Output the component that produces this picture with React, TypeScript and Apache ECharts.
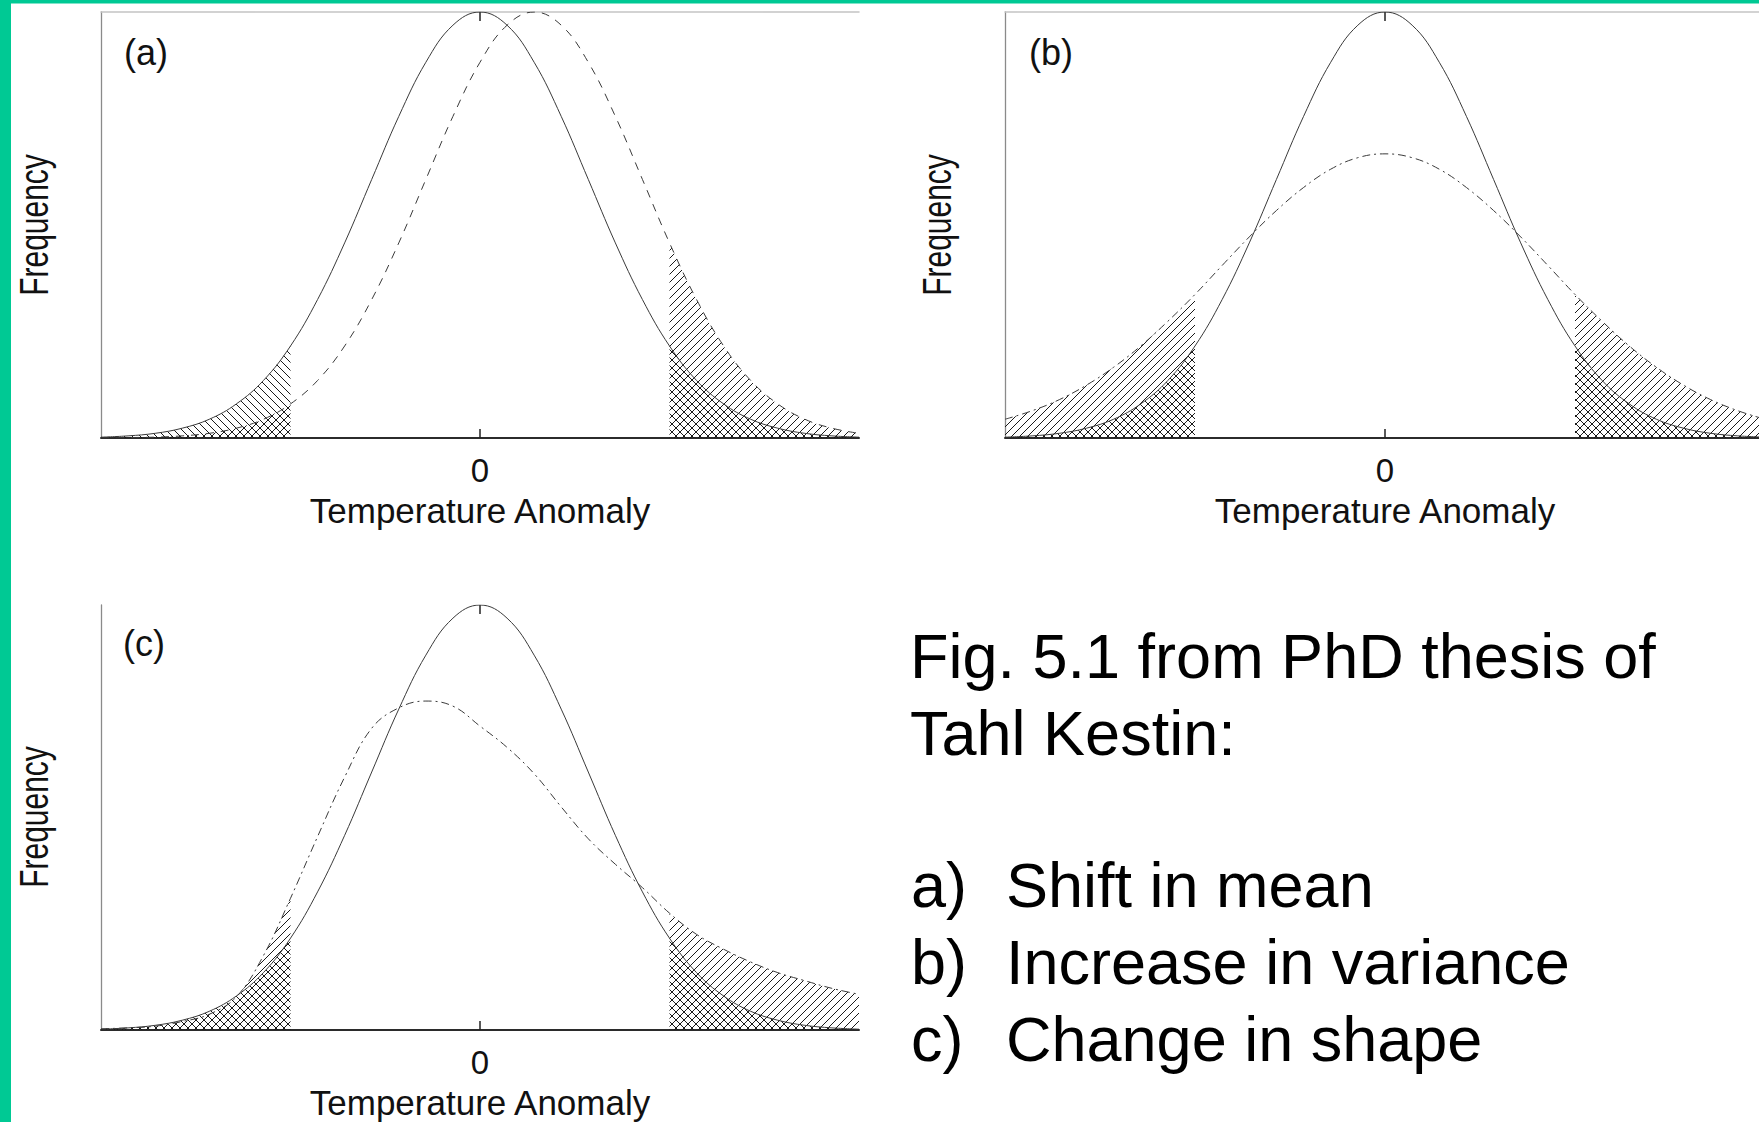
import React, { useEffect, useRef } from 'react';
import * as echarts from 'echarts';

// Temperature anomaly in standard deviations of the reference climate.
const X_GRID = [
  -3.5, -3.25, -3, -2.75, -2.5, -2.25, -2, -1.75, -1.5, -1.25, -1, -0.75, -0.5, -0.25,
  0, 0.25, 0.5, 0.75, 1, 1.25, 1.5, 1.75, 2, 2.25, 2.5, 2.75, 3, 3.25, 3.5,
];

// Reference climate (solid curve, same in all three panels), peak frequency = 1.
const BASE_FREQ = [
  0.002, 0.005, 0.011, 0.023, 0.044, 0.080, 0.135, 0.216, 0.325, 0.458, 0.607, 0.755, 0.882, 0.969,
  1.000, 0.969, 0.882, 0.755, 0.607, 0.458, 0.325, 0.216, 0.135, 0.080, 0.044, 0.023, 0.011, 0.005, 0.002,
];

// (a) shift in mean
const SHIFTED_FREQ = [
  0.000, 0.001, 0.002, 0.005, 0.011, 0.023, 0.044, 0.080, 0.135, 0.216, 0.325, 0.458, 0.607, 0.755,
  0.882, 0.969, 1.000, 0.969, 0.882, 0.755, 0.607, 0.458, 0.325, 0.216, 0.135, 0.080, 0.044, 0.023, 0.011,
];

// (b) increase in variance
const WIDER_FREQ = [
  0.044, 0.064, 0.090, 0.124, 0.166, 0.216, 0.274, 0.337, 0.405, 0.472, 0.534, 0.588, 0.631, 0.658,
  0.667, 0.658, 0.631, 0.588, 0.534, 0.472, 0.405, 0.337, 0.274, 0.216, 0.166, 0.124, 0.090, 0.064, 0.044,
];

// (c) change in shape (skewed, long warm tail)
const SKEWED_FREQ = [
  0.003, 0.005, 0.009, 0.020, 0.037, 0.078, 0.175, 0.310, 0.455, 0.595, 0.710, 0.758, 0.774, 0.762,
  0.715, 0.665, 0.603, 0.525, 0.450, 0.390, 0.335, 0.275, 0.225, 0.190, 0.160, 0.135, 0.116, 0.098, 0.084,
];

// Extreme thresholds: tails beyond these are hatched.
const TAIL_CUTS = [-1.75, 1.75];
const X_TICKS = [0];

const PANEL_LABELS = ['(a)', '(b)', '(c)'];
const X_NAME = 'Temperature Anomaly';
const Y_NAME = 'Frequency';

const CAPTION_LINES = ['Fig. 5.1 from PhD thesis of', 'Tahl Kestin:'];
const CAPTION_ITEMS = [
  ['a)', 'Shift in mean'],
  ['b)', 'Increase in variance'],
  ['c)', 'Change in shape'],
];

const FONT = "'Liberation Sans', Arial, Helvetica, sans-serif";
const GREEN = '#00C994';
const INK = '#111111';

// Diagonal hatch tile; 'back' = old-climate tails, 'fwd' = changed-climate tails.
function hatch(kind: 'fwd' | 'back') {
  const w = 8;
  const h = 8;
  const cv = document.createElement('canvas');
  cv.width = w;
  cv.height = h;
  const ctx = cv.getContext('2d')!;
  ctx.strokeStyle = '#1a1a1a';
  ctx.lineWidth = 1;
  ctx.beginPath();
  for (const o of [-w, 0, w]) {
    if (kind === 'fwd') {
      ctx.moveTo(o, h);
      ctx.lineTo(o + w, 0);
    } else {
      ctx.moveTo(o, 0);
      ctx.lineTo(o + w, h);
    }
  }
  ctx.stroke();
  return { image: cv.toDataURL(), repeat: 'repeat', imageWidth: w, imageHeight: h };
}

function pairs(ys: number[]) {
  return X_GRID.map((x, i) => [x, ys[i]]);
}

function tail(ys: number[], side: 'left' | 'right') {
  return pairs(ys).filter(([x]) => (side === 'left' ? x <= TAIL_CUTS[0] : x >= TAIL_CUTS[1]));
}

type Panel = {
  grid: { left: number; top: number; width: number; height: number };
  changed: number[];
  dash: number[];
  topLine: boolean;
  label: { x: number; y: number };
  yName: { x: number; y: number };
};

const PANELS: Panel[] = [
  {
    grid: { left: 101, top: 12, width: 758, height: 426 },
    changed: SHIFTED_FREQ,
    dash: [8, 7],
    topLine: true,
    label: { x: 124, y: 52 },
    yName: { x: 34, y: 225 },
  },
  {
    grid: { left: 1005, top: 12, width: 760, height: 426 },
    changed: WIDER_FREQ,
    dash: [8, 4, 2, 4],
    topLine: true,
    label: { x: 1029, y: 52 },
    yName: { x: 937, y: 225 },
  },
  {
    grid: { left: 101, top: 605, width: 758, height: 425 },
    changed: SKEWED_FREQ,
    dash: [8, 4, 2, 4],
    topLine: false,
    label: { x: 123, y: 643 },
    yName: { x: 34, y: 817 },
  },
];

export default function App() {
  const ref = useRef<HTMLDivElement>(null);

  useEffect(() => {
    if (!ref.current) return;
    const chart = echarts.init(ref.current, undefined, { renderer: 'svg' });

    const oldHatch = hatch('back');
    const newHatch = hatch('fwd');

    const grids: any[] = [];
    const xAxes: any[] = [];
    const yAxes: any[] = [];
    const series: any[] = [];
    const graphics: any[] = [
      { type: 'rect', shape: { x: 0, y: 0, width: 11, height: 1122 }, style: { fill: GREEN }, silent: true },
      { type: 'rect', shape: { x: 0, y: 0, width: 1759, height: 3.5 }, style: { fill: GREEN }, silent: true },
    ];

    PANELS.forEach((p, i) => {
      grids.push({ ...p.grid, outerBoundsMode: 'none', containLabel: false });

      const bottomIdx = xAxes.length;
      xAxes.push({
        gridIndex: i,
        type: 'value',
        min: X_GRID[0],
        max: X_GRID[X_GRID.length - 1],
        position: 'bottom',
        axisLine: { show: true, onZero: false, lineStyle: { color: '#2b2b2b', width: 2 } },
        axisTick: { show: true, inside: true, length: 9, customValues: X_TICKS, lineStyle: { color: '#222', width: 1.5 } },
        axisLabel: {
          show: true,
          customValues: X_TICKS,
          margin: 16,
          fontSize: 33,
          fontFamily: FONT,
          color: INK,
        },
        splitLine: { show: false },
        name: X_NAME,
        nameLocation: 'middle',
        nameGap: 55,
        nameTextStyle: { fontSize: 35, fontFamily: FONT, color: INK },
      });
      xAxes.push({
        gridIndex: i,
        type: 'value',
        min: X_GRID[0],
        max: X_GRID[X_GRID.length - 1],
        position: 'top',
        axisLine: { show: p.topLine, onZero: false, lineStyle: { color: '#c4c4c4', width: 1.5 } },
        axisTick: { show: true, inside: true, length: 9, customValues: X_TICKS, lineStyle: { color: '#222', width: 1.5 } },
        axisLabel: { show: false },
        splitLine: { show: false },
      });
      yAxes.push({
        gridIndex: i,
        type: 'value',
        min: 0,
        max: 1,
        axisLine: { show: true, onZero: false, lineStyle: { color: '#8a8a8a', width: 1.3 } },
        axisTick: { show: false },
        axisLabel: { show: false },
        splitLine: { show: false },
      });

      const areaSeries = (data: number[][], pattern: any) => ({
        type: 'line',
        xAxisIndex: bottomIdx,
        yAxisIndex: i,
        data,
        smooth: 0.4,
        showSymbol: false,
        symbol: 'none',
        silent: true,
        lineStyle: { width: 0 },
        areaStyle: { color: pattern, opacity: 1 },
        z: 1,
      });

      series.push(areaSeries(tail(BASE_FREQ, 'left'), oldHatch));
      series.push(areaSeries(tail(BASE_FREQ, 'right'), oldHatch));
      series.push(areaSeries(tail(p.changed, 'left'), newHatch));
      series.push(areaSeries(tail(p.changed, 'right'), newHatch));

      series.push({
        type: 'line',
        name: 'reference',
        xAxisIndex: bottomIdx,
        yAxisIndex: i,
        data: pairs(BASE_FREQ),
        smooth: 0.4,
        showSymbol: false,
        symbol: 'none',
        silent: true,
        lineStyle: { color: '#3a3a3a', width: 1, type: 'solid' },
        z: 3,
      });
      series.push({
        type: 'line',
        name: 'changed',
        xAxisIndex: bottomIdx,
        yAxisIndex: i,
        data: pairs(p.changed),
        smooth: 0.4,
        showSymbol: false,
        symbol: 'none',
        silent: true,
        lineStyle: { color: '#3a3a3a', width: 1, type: p.dash },
        z: 3,
      });

      graphics.push({
        type: 'text',
        x: p.label.x,
        y: p.label.y,
        silent: true,
        style: {
          text: PANEL_LABELS[i],
          fontSize: 36,
          fontFamily: FONT,
          fill: INK,
          align: 'left',
          verticalAlign: 'middle',
        },
      });
      graphics.push({
        type: 'text',
        x: p.yName.x,
        y: p.yName.y,
        rotation: Math.PI / 2,
        scaleX: 0.75,
        silent: true,
        style: {
          text: Y_NAME,
          fontSize: 40,
          fontFamily: FONT,
          fill: INK,
          align: 'center',
          verticalAlign: 'middle',
        },
      });
    });

    // Caption block on the right
    const captionSize = 63;
    const baselineToMiddle = 0.3465 * captionSize;
    const baselines = [677.5, 754.5];
    CAPTION_LINES.forEach((t, k) => {
      graphics.push({
        type: 'text',
        x: 910,
        y: baselines[k] - baselineToMiddle,
        silent: true,
        style: { text: t, fontSize: captionSize, fontFamily: FONT, fill: '#000', align: 'left', verticalAlign: 'middle' },
      });
    });
    const itemBaselines = [907, 984, 1061];
    CAPTION_ITEMS.forEach(([tag, txt], k) => {
      graphics.push({
        type: 'text',
        x: 911,
        y: itemBaselines[k] - baselineToMiddle,
        silent: true,
        style: { text: tag, fontSize: captionSize, fontFamily: FONT, fill: '#000', align: 'left', verticalAlign: 'middle' },
      });
      graphics.push({
        type: 'text',
        x: 1006,
        y: itemBaselines[k] - baselineToMiddle,
        silent: true,
        style: { text: txt, fontSize: captionSize, fontFamily: FONT, fill: '#000', align: 'left', verticalAlign: 'middle' },
      });
    });

    chart.setOption({
      animation: false,
      backgroundColor: '#ffffff',
      grid: grids,
      xAxis: xAxes,
      yAxis: yAxes,
      series,
      graphic: { elements: graphics },
    });

    return () => {
      chart.dispose();
    };
  }, []);

  return (
    <div
      ref={ref}
      style={{ position: 'fixed', left: 0, top: 0, width: 1759, height: 1122, background: '#fff' }}
    />
  );
}
